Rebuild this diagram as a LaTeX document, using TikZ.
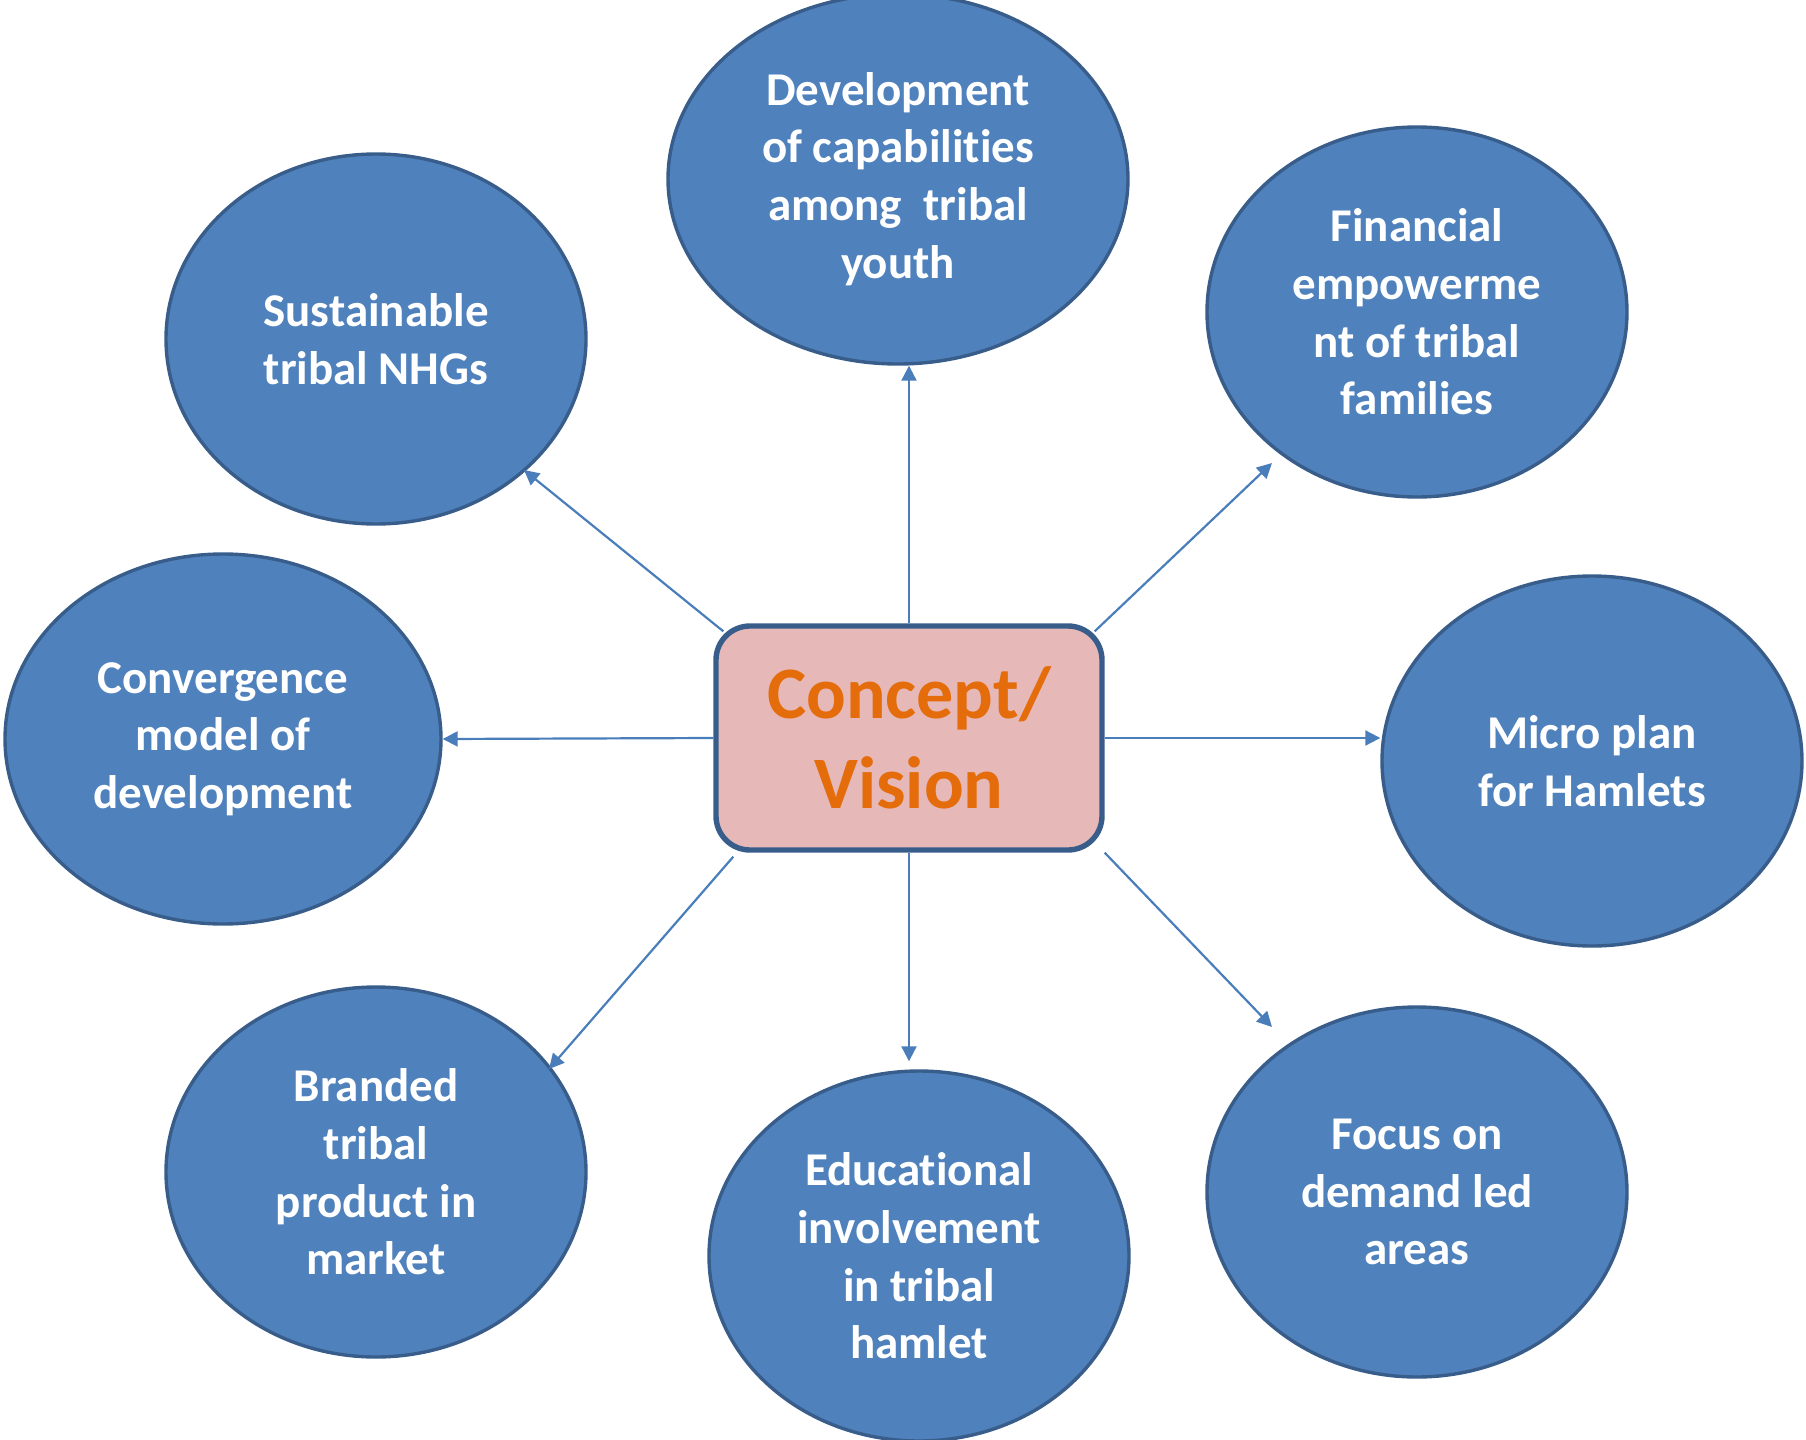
\documentclass[tikz,border=0pt]{standalone}
\usepackage{fontspec}
\setmainfont{Carlito}[Ligatures=NoCommon]
\usetikzlibrary{shapes,arrows.meta,positioning}
\usepackage{xcolor}
\definecolor{ovalblue}{HTML}{4F81BD}
\definecolor{ovalline}{HTML}{385D8A}
\definecolor{corepink}{HTML}{E6B9B8}
\definecolor{coreorange}{HTML}{E46C0A}
\definecolor{arrowblue}{HTML}{4A7EBB}

\begin{document}
\begin{tikzpicture}[x=0.5pt,y=-0.5pt]
    \tikzstyle{oval} = [ellipse, draw=ovalline, line width=1.7pt, fill=ovalblue,
               minimum width=210pt, minimum height=185pt, inner sep=0pt,
               text=white, align=center,
               font=\fontsize{23.5}{28.8}\selectfont\bfseries]
    \tikzstyle{core} = [rectangle, rounded corners=17pt, draw=ovalline,
               line width=2.7pt, fill=corepink, minimum width=193pt,
               minimum height=112pt, text=coreorange, align=center,
               font=\fontsize{37}{45}\selectfont\bfseries]
    \tikzstyle{line} = [draw=arrowblue, line width=1.1pt,
               -{Triangle[length=7.5pt,width=7.5pt]}]

    \useasboundingbox (0,0) rectangle (1806,1440);

    % Centre
    \node[core] (vision) at (909,738) {Concept/\\Vision};

    % Ovals round it
    \node[oval, minimum width=230pt] (youth) at (898,179) {Development\\of capabilities\\among~~tribal\\youth};
    \node[oval] (nhg) at (376,339) {Sustainable\\tribal NHGs};
    \node[oval] (finance) at (1417,312) {Financial\\empowerme\\nt of tribal\\families};
    \node[oval, minimum width=218pt] (converge) at (223,739) {Convergence\\model of\\development};
    \node[oval] (micro) at (1592,761) {Micro plan\\for Hamlets};
    \node[oval] (brand) at (376,1172) {Branded\\tribal\\product in\\market};
    \node[oval] (edu) at (919,1256) {Educational\\involvement\\in tribal\\hamlet};
    \node[oval] (demand) at (1417,1192) {Focus on\\demand led\\areas};

    % Free arrow ends
    \coordinate (tipnw) at (524,470);
    \coordinate (tipne) at (1272,463);
    \coordinate (tipse) at (1272,1027);
    \coordinate (tipsw) at (549,1069);

    \draw[line] (vision.north) -- (vision.north |- youth.south);
    \draw[line] ([xshift=5pt,yshift=-4pt]vision.north west) -- (tipnw);
    \draw[line] ([xshift=-5pt,yshift=-4pt]vision.north east) -- (tipne);
    \draw[line] (vision.west) -- (converge.east);
    \draw[line] (vision.east) -- (micro.west |- vision.east);
    \draw[line] (vision.south east) -- (tipse);
    \draw[line, shorten >=4pt] (vision.south) -- (vision.south |- edu.north);
    \draw[line] ([xshift=10pt,yshift=-2pt]vision.south west) -- (tipsw);
\end{tikzpicture}
\end{document}
